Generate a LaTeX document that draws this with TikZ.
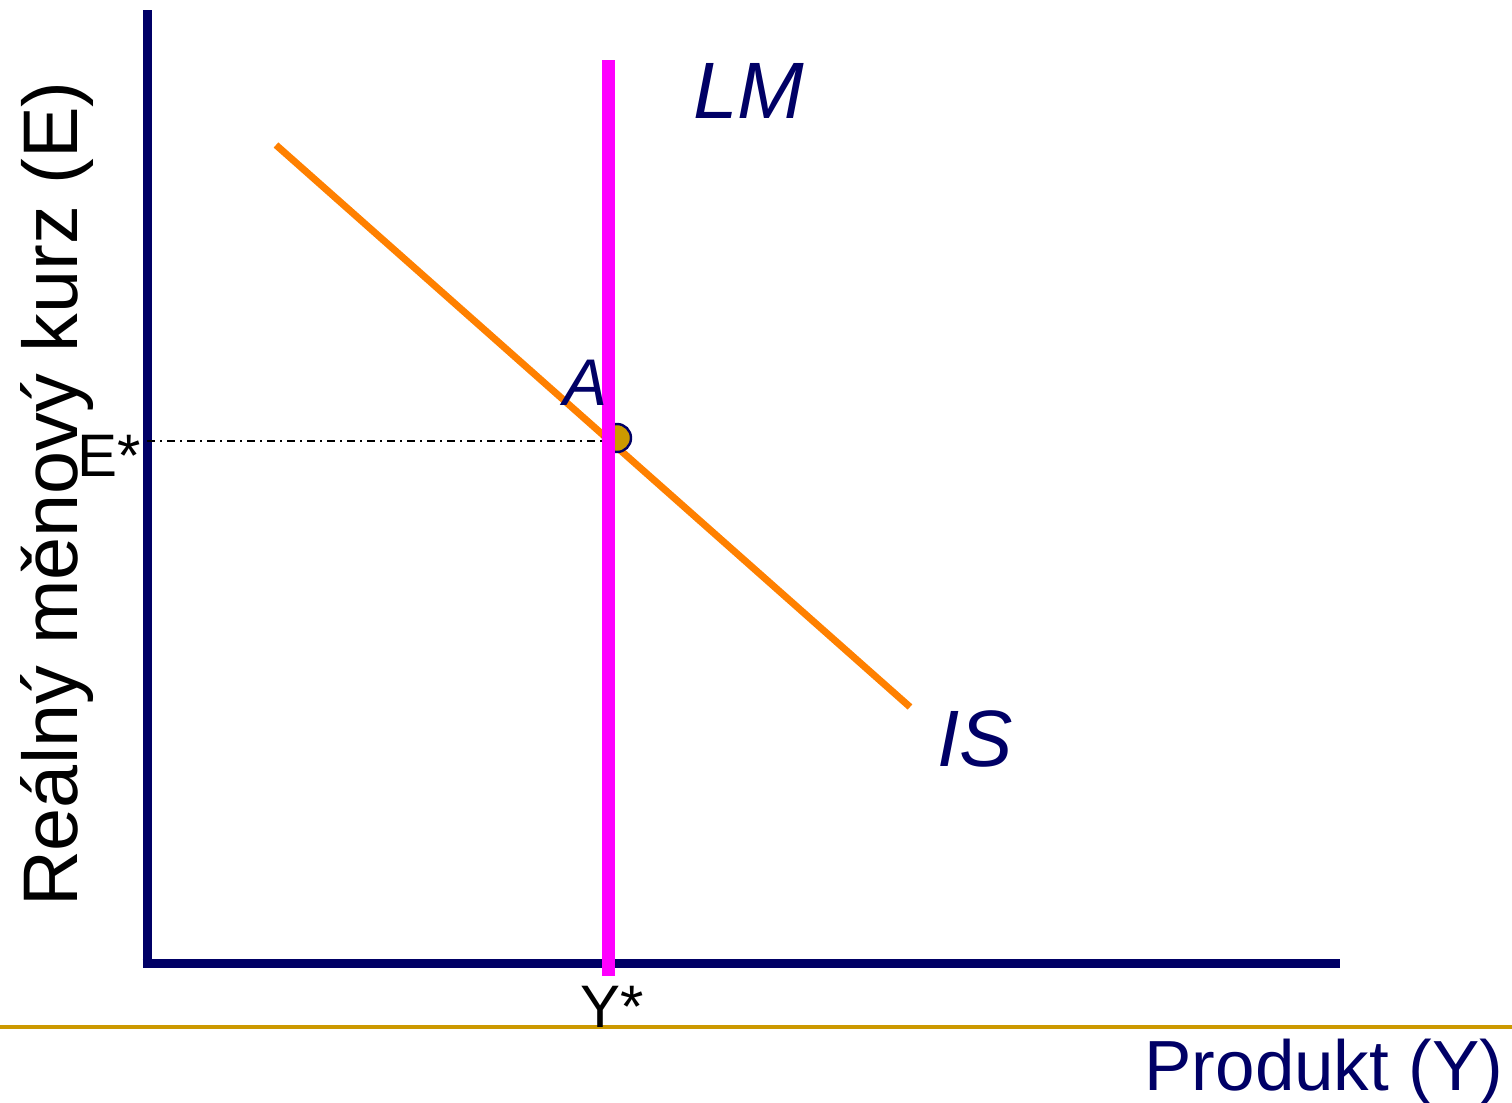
\documentclass[tikz,border=0pt]{standalone}
\usepackage{fontspec}
\setmainfont{Liberation Sans}
\usepackage{xcolor}
\usetikzlibrary{positioning}
\definecolor{axisnavy}{RGB}{0,0,102}
\definecolor{isorange}{RGB}{255,128,0}
\definecolor{lmmagenta}{RGB}{255,0,255}
\definecolor{gold}{RGB}{204,153,0}

\begin{document}
\begin{tikzpicture}[
        x=0.5pt, y=-0.5pt,
        axis/.style={draw=axisnavy, line width=4.5pt},
        curvelabel/.style={text=axisnavy, font=\fontsize{40}{48}\selectfont\itshape, inner sep=0pt},
        ticklabel/.style={text=black, font=\fontsize{30}{36}\selectfont, inner sep=0pt},
        axislabel/.style={inner sep=0pt}
    ]
    \useasboundingbox (0,0) rectangle (1512,1103);

    % axes
    \coordinate (origin) at (147,963);
    \coordinate (ytop) at (147,10);
    \coordinate (xend) at (1340,963);
    \draw[axis] (ytop) -- ([yshift=-2.25pt]origin) ;
    \draw[axis] ([xshift=-2.25pt]origin) -- (xend);

    % base rule
    \coordinate (rulel) at (0,1027);
    \coordinate (ruler) at (1512,1027);
    \draw[gold, line width=2pt] (rulel) -- (ruler);

    % IS curve and equilibrium
    \coordinate (is1) at (276,145);
    \coordinate (is2) at (910,707);
    \draw[isorange, line width=3.5pt] (is1) -- (is2);
    \node[circle, draw=axisnavy, fill=gold, line width=1.2pt, minimum size=14pt, inner sep=0pt] (ptA) at (617,438) {};

    % LM curve
    \coordinate (lm1) at (608,60);
    \coordinate (lm2) at (608,976);
    \draw[lmmagenta, line width=6.5pt] (lm1) -- (lm2);

    \coordinate (estar) at (147,441);
    \coordinate (elm) at (603,441);
    \draw[black, line width=1pt, dash pattern=on 4pt off 2.5pt on 1pt off 2.5pt] (estar) -- (elm);

    % labels
    \node[curvelabel, anchor=base west] (lmlab) at (693,118) {LM};
    \node[curvelabel, anchor=base west] (islab) at (937,766) {IS};
    \node[text=axisnavy, font=\fontsize{33}{40}\selectfont\itshape, inner sep=0pt, anchor=base west] (alab) at (563,405) {A};
    \node[ticklabel, anchor=base east] (elab) at (141,476) {E*};
    \node[ticklabel, anchor=base] (ylab) at (612,1027) {Y*};
    \node[axislabel, font=\fontsize{35.5}{42}\selectfont, text=axisnavy, anchor=base east] (xlab) at (1504,1090) {Produkt (Y)};
    \node[axislabel, font=\fontsize{38.7}{46}\selectfont, text=black, rotate=90, anchor=base] (eaxis) at (77,494) {Reálný měnový kurz (E)};
\end{tikzpicture}
\end{document}
